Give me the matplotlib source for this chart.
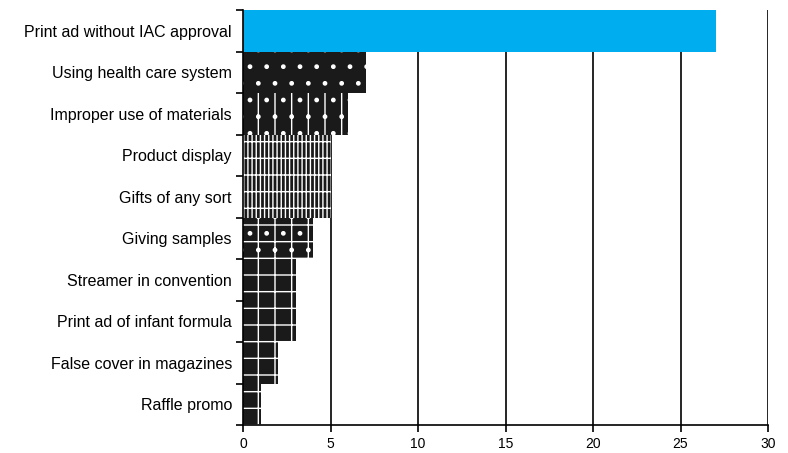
import matplotlib
matplotlib.use("Agg")
import matplotlib.pyplot as plt
import numpy as np

categories = ["Print ad without IAC approval", "Using health care system",
              "Improper use of materials", "Product display", "Gifts of any sort",
              "Giving samples", "Streamer in convention", "Print ad of infant formula",
              "False cover in magazines", "Raffle promo"]
values = [27, 7, 6, 5, 5, 4, 3, 3, 2, 1]
xticks = [0, 5, 10, 15, 20, 25, 30]

plt.rcParams['font.family'] = ['Liberation Sans', 'DejaVu Sans']
plt.rcParams['hatch.color'] = 'white'
plt.rcParams['hatch.linewidth'] = 1.0

fig = plt.figure(figsize=(7.88, 4.53), dpi=100)
ax = fig.add_axes([243/788, 1-425/453, 525/788, 415/453])

n = len(categories)
y = np.arange(n)[::-1]
hatches = [None, '.', '|.', '||||-', '||||-', '+.', '+', '+', '+', '+']
colors = ['#00AEEF'] + ['#1a1a1a'] * (n - 1)
for yi, v, h, c in zip(y, values, hatches, colors):
    ax.barh(yi, v, height=1.0, color=c, hatch=h,
            edgecolor='white' if h else c, linewidth=0, zorder=2)

ax.set_xlim(0, 30)
ax.set_ylim(-0.5, n - 0.5)
ax.set_xticks(xticks)
ax.set_xticklabels([str(t) for t in xticks], fontsize=10)
ax.set_yticks(y)
ax.set_yticklabels(categories, fontsize=11.5)
ax.set_yticks(np.arange(n + 1) - 0.5, minor=True)
ax.tick_params(axis='y', which='major', length=0, pad=8)
ax.tick_params(axis='y', which='minor', length=5, width=1.2, direction='out')
ax.tick_params(axis='x', length=5, width=1.2, direction='out', pad=3.5)
ax.grid(axis='x', color='black', linewidth=1.2, zorder=0)
ax.set_axisbelow(True)
for s in ['top', 'right']:
    ax.spines[s].set_visible(False)
for s in ['left', 'bottom']:
    ax.spines[s].set_linewidth(1.2)

fig.savefig("out.png", dpi=100)
